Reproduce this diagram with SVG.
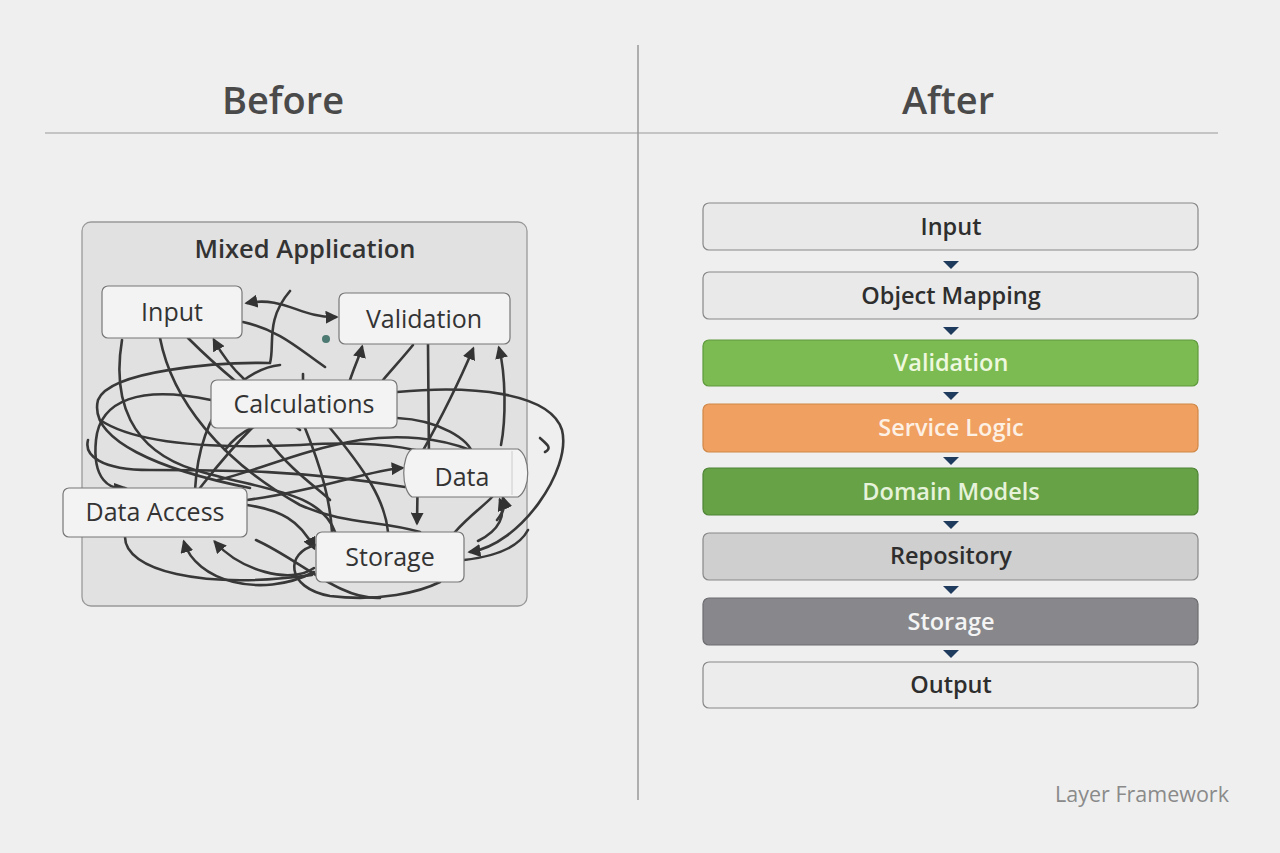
<svg xmlns="http://www.w3.org/2000/svg" width="1280" height="853" viewBox="0 0 1280 853">
<defs>
<style>
.t{font-family:"Open Sans","Noto Sans","Liberation Sans",sans-serif;text-anchor:middle}
.title{font-size:38px;font-weight:600;fill:#4a4a4a}
.lbl{font-size:25px;fill:#333}
.sl{font-size:23.5px;font-weight:600;fill:#2e2e2e}
.lnode{fill:#f3f3f3;stroke:#777;stroke-width:1.2}
.layer{stroke:#888;stroke-width:1.2}
.sp{fill:none;stroke:#383838;stroke-width:2.6;stroke-linecap:round}
.tri{fill:#1e3a5c}
</style>
<marker id="ah" viewBox="0 0 10 10" refX="8" refY="5" markerWidth="5" markerHeight="5" orient="auto-start-reverse">
<path d="M0,0 L10,5 L0,10 z" fill="#333"/>
</marker>
</defs>
<rect width="1280" height="853" fill="#efefef"/>
<g id="frame">
<line x1="45" y1="133" x2="1218" y2="133" stroke="#999" stroke-width="1.2"/>
<line x1="638" y1="45" x2="638" y2="800" stroke="#999" stroke-width="1.5"/>
<text class="t title" x="283" y="114">Before</text>
<text class="t title" x="948" y="114">After</text>
</g>
<g id="mixed-app">
<rect x="82" y="222" width="445" height="384" rx="9" fill="#e1e1e1" stroke="#999" stroke-width="1.3"/>
<text class="t" x="305" y="258" font-size="25.5" font-weight="600" fill="#333">Mixed Application</text>
</g>
<g id="connectors">
<path class="sp" d="M247,303 C285,296 300,318 336,317" marker-start="url(#ah)" marker-end="url(#ah)"/>
<path class="sp" d="M243,322 C280,330 300,350 325,367"/>
<path class="sp" d="M290,291 C265,320 275,345 270,363 C220,362 110,370 98,400 C88,440 160,470 250,488"/>
<path class="sp" d="M397,392 C470,385 550,392 562,430 C572,470 520,545 470,552" marker-end="url(#ah)"/>
<path class="sp" d="M540,438 C548,445 552,448 545,452"/>
<path class="sp" d="M428,344 L429,462"/>
<path class="sp" d="M418,462 L417,523" marker-end="url(#ah)"/>
<path class="sp" d="M350,380 C355,365 360,355 362,347" marker-end="url(#ah)"/>
<path class="sp" d="M383,380 C395,366 405,355 413,345"/>
<path class="sp" d="M420,456 C440,420 460,380 473,349" marker-end="url(#ah)"/>
<path class="sp" d="M501,445 C506,420 506,375 499,348" marker-end="url(#ah)"/>
<path class="sp" d="M500,500 C506,515 500,530 478,541" marker-start="url(#ah)"/>
<path class="sp" d="M122,340 C112,400 130,450 195,470 C260,490 320,490 335,532"/>
<path class="sp" d="M160,338 C172,400 220,460 300,505 C345,525 380,520 420,532"/>
<path class="sp" d="M188,338 C230,380 260,400 300,430"/>
<path class="sp" d="M214,340 C222,355 232,368 245,380" marker-start="url(#ah)"/>
<path class="sp" d="M305,428 C322,470 330,500 332,532"/>
<path class="sp" d="M330,428 C365,470 385,500 388,532"/>
<path class="sp" d="M252,428 C225,455 208,478 200,488"/>
<path class="sp" d="M211,400 C140,385 100,400 96,440 C92,480 110,490 125,488" marker-end="url(#ah)"/>
<path class="sp" d="M280,365 C250,368 200,400 195,490"/>
<path class="sp" d="M100,420 C130,440 190,450 300,445 C380,440 420,448 444,460"/>
<path class="sp" d="M218,480 C260,470 300,450 360,440 C400,434 440,438 470,450"/>
<path class="sp" d="M397,418 C440,420 470,440 473,455"/>
<path class="sp" d="M247,505 C280,510 300,520 314,548" marker-end="url(#ah)"/>
<path class="sp" d="M247,500 C320,490 370,470 402,468" marker-end="url(#ah)"/>
<path class="sp" d="M125,537 C125,570 200,590 312,575"/>
<path class="sp" d="M184,542 C195,580 260,600 314,572" marker-start="url(#ah)"/>
<path class="sp" d="M215,542 C240,570 290,585 314,568" marker-start="url(#ah)"/>
<path class="sp" d="M316,545 C285,552 285,588 330,596 C380,602 420,592 440,582"/>
<path class="sp" d="M256,540 C300,560 340,600 380,598"/>
<path class="sp" d="M464,560 C500,556 520,545 528,530"/>
<path class="sp" d="M455,532 C470,515 485,505 492,497"/>
<path class="sp" d="M497,520 C505,510 505,505 503,498" marker-end="url(#ah)"/>
<path class="sp" d="M225,450 C240,430 260,420 300,418"/>
<path class="sp" d="M405,487 C300,470 230,470 150,470 C100,470 84,455 88,440"/>
<path class="sp" d="M268,440 C290,470 320,490 330,500"/>
<path class="sp" d="M303,383 L303,374"/>
</g>
<circle cx="326" cy="339" r="4" fill="#4c7a72"/>
<g id="node-input-l"><rect class="lnode" x="102" y="286" width="140" height="52" rx="6"/><text class="t lbl" x="172" y="321">Input</text></g>
<g id="node-validation-l"><rect class="lnode" x="339" y="293" width="171" height="51" rx="6"/><text class="t lbl" x="424" y="328">Validation</text></g>
<g id="node-calculations-l"><rect class="lnode" x="211" y="380" width="186" height="48" rx="6"/><text class="t lbl" x="304" y="413">Calculations</text></g>
<g id="node-data-l"><path class="lnode" d="M412,449 L518,449 C531,456 531,490 518,497 L412,497 C401,490 401,456 412,449 Z"/><line x1="512" y1="451" x2="512" y2="495" stroke="#ccc" stroke-width="1"/><text class="t lbl" x="462" y="486">Data</text></g>
<g id="node-dataaccess-l"><rect class="lnode" x="63" y="488" width="184" height="49" rx="6"/><text class="t lbl" x="155" y="521">Data Access</text></g>
<g id="node-storage-l"><rect class="lnode" x="316" y="532" width="148" height="50" rx="6"/><text class="t lbl" x="390" y="566">Storage</text></g>
<g id="stack-arrows">
<path class="tri" d="M943,261 L959,261 L951,269 z"/>
<path class="tri" d="M943,327 L959,327 L951,335 z"/>
<path class="tri" d="M943,392 L959,392 L951,400 z"/>
<path class="tri" d="M943,457 L959,457 L951,465 z"/>
<path class="tri" d="M943,521 L959,521 L951,529 z"/>
<path class="tri" d="M943,586 L959,586 L951,594 z"/>
<path class="tri" d="M943,650 L959,650 L951,658 z"/>
</g>
<g id="layer-input"><rect class="layer" x="703" y="203" width="495" height="47" rx="6" fill="#e9e9e9"/><text class="t sl" x="951" y="235">Input</text></g>
<g id="layer-mapping"><rect class="layer" x="703" y="272" width="495" height="47" rx="6" fill="#e9e9e9"/><text class="t sl" x="951" y="304">Object Mapping</text></g>
<g id="layer-validation"><rect x="703" y="340" width="495" height="46" rx="6" fill="#7cbb52" stroke="#5e9a3c" stroke-width="1.2"/><text class="t sl" x="951" y="371" style="fill:#eef8df">Validation</text></g>
<g id="layer-service"><rect x="703" y="404" width="495" height="48" rx="6" fill="#f0a060" stroke="#d08848" stroke-width="1.2"/><text class="t sl" x="951" y="436" style="fill:#fdf0e4">Service Logic</text></g>
<g id="layer-domain"><rect x="703" y="468" width="495" height="47" rx="6" fill="#67a247" stroke="#4e8435" stroke-width="1.2"/><text class="t sl" x="951" y="500" style="fill:#e6f3da">Domain Models</text></g>
<g id="layer-repository"><rect class="layer" x="703" y="533" width="495" height="47" rx="6" fill="#cfcfcf"/><text class="t sl" x="951" y="564">Repository</text></g>
<g id="layer-storage"><rect x="703" y="598" width="495" height="47" rx="6" fill="#88888c" stroke="#6c6c70" stroke-width="1.2"/><text class="t sl" x="951" y="630" style="fill:#f4f4f4">Storage</text></g>
<g id="layer-output"><rect class="layer" x="703" y="662" width="495" height="46" rx="6" fill="#ececec"/><text class="t sl" x="951" y="693">Output</text></g>
<text class="t" x="1142" y="802" font-size="21.5" fill="#8a8a8a">Layer Framework</text>
</svg>
